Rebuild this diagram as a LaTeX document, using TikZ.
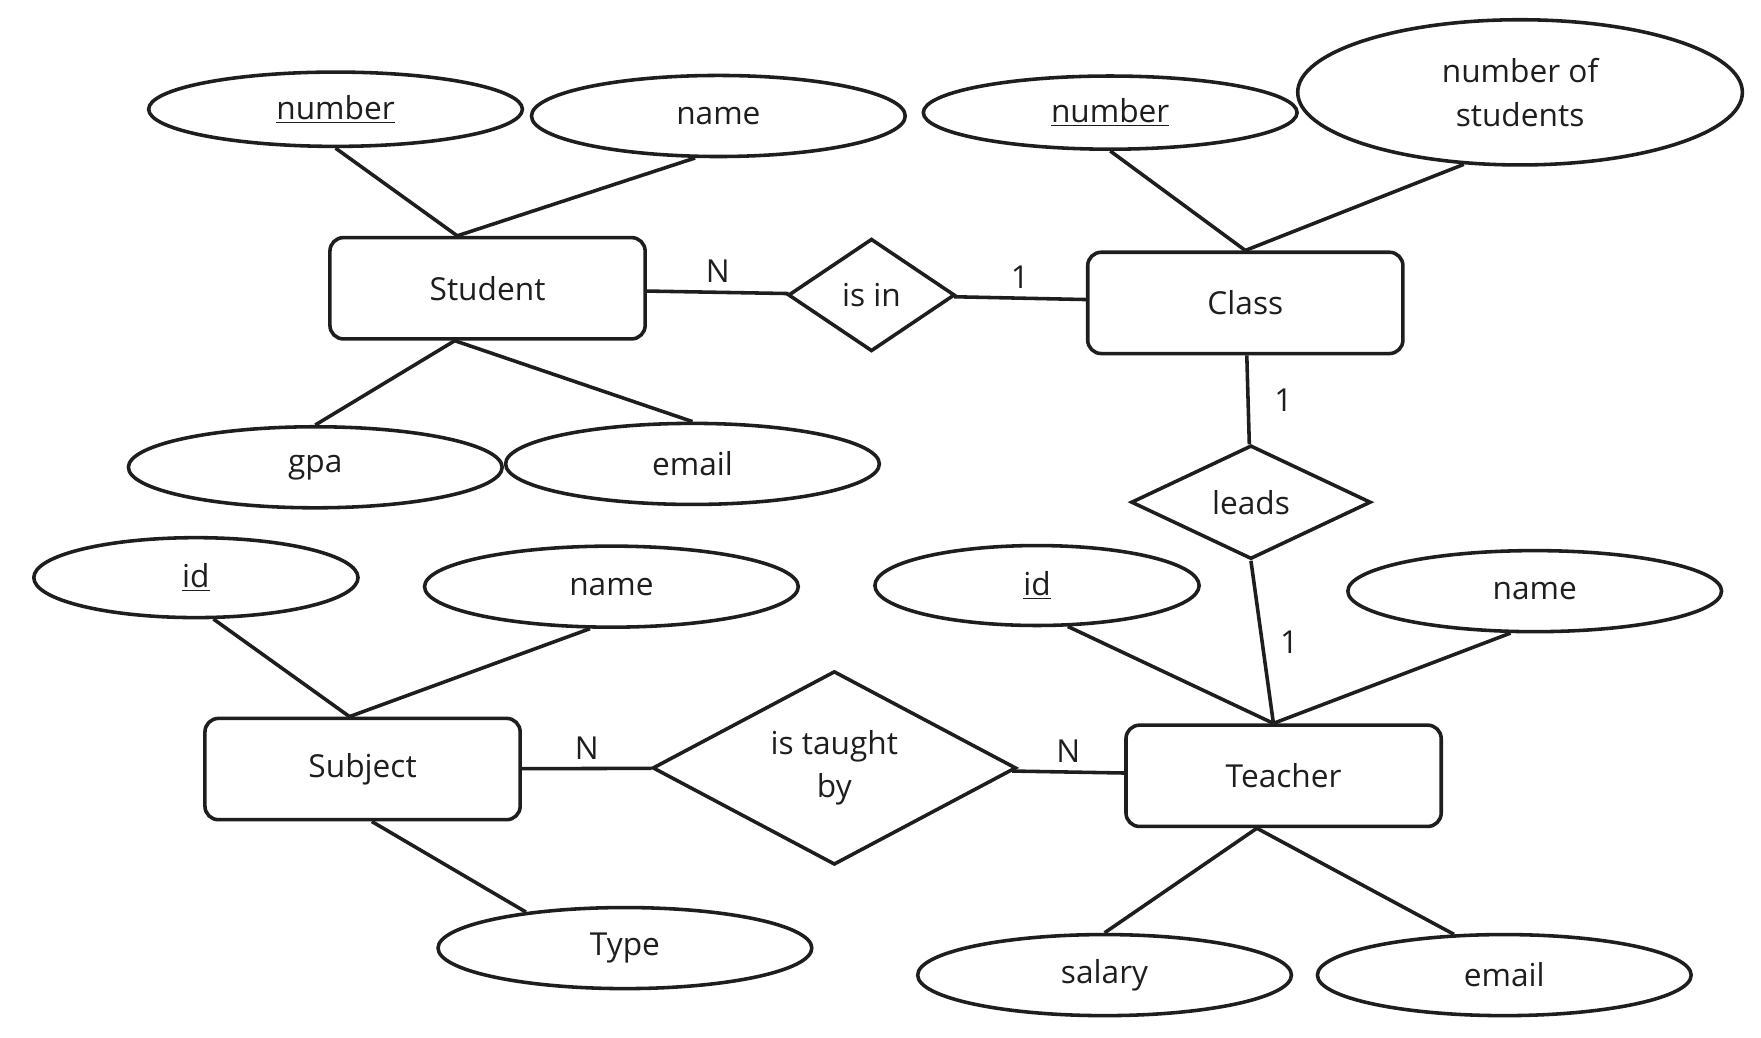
\documentclass[tikz,border=0pt]{standalone}
\usepackage{fontspec}
\setmainfont{Open Sans}
\usetikzlibrary{shapes.geometric}
\definecolor{ink}{HTML}{1E1E1E}

\begin{document}
\begin{tikzpicture}[x=0.02cm,y=-0.02cm,
        font=\fontsize{16}{22}\selectfont,
        every node/.style={text=ink},
        entity/.style={draw=ink,line width=1.8pt,rounded corners=0.24cm,minimum width=5.6cm,minimum height=1.8cm},
        attr/.style={draw=ink,line width=1.8pt,ellipse,minimum width=6.64cm,minimum height=1.44cm},
        keyattr/.style={attr,minimum width=5.76cm,minimum height=1.42cm},
        rel/.style={draw=ink,line width=1.8pt,diamond,inner sep=0pt},
        conn/.style={draw=ink,line width=1.8pt},
        card/.style={font=\fontsize{16}{18}\selectfont,inner sep=1pt}]
        \useasboundingbox (0,0) rectangle (1564,921);

        \node[entity] (student) at (433,256) {Student};
        \node[entity] (class) at (1106,269) {Class};
        \node[entity] (subject) at (322,683) {Subject};
        \node[entity] (teacher) at (1140,689) {Teacher};

        \node[rel,minimum width=2.96cm,minimum height=2cm,aspect=1.48] (isin) at (774,262) {is in};
        \node[rel,minimum width=4.26cm,minimum height=2.02cm,aspect=2.1] (leads) at (1111,446) {leads};
        \node[rel,minimum width=6.46cm,minimum height=3.44cm,aspect=1.88,align=center] (taught) at (741,682) {is taught\\by};

        \node[attr,minimum height=1.32cm] (snum) at (298,97) {\underline{number}};
        \node[attr,minimum height=1.3cm] (cnum) at (986,100) {\underline{number}};
        \node[attr,minimum width=7.9cm,minimum height=2.58cm,align=center] (cstud) at (1350,82) {number of\\students};
        \node[keyattr] (subid) at (174,513) {\underline{id}};
        \node[keyattr] (tid) at (921,520) {\underline{id}};

        \foreach \n/\x/\y/\t in {sname/638/103/name, gpa/280/415/gpa, semail/615/412/email,
                subname/543/521/name, type/555/842/Type,
                tname/1363/525/name, salary/981/866/salary, temail/1336/866/email}
            \node[attr] (\n) at (\x,\y) {\t};

        \foreach \a/\b in {snum.south/student.120, sname.241/student.120,
                student.238/gpa.north, student.238/semail.north,
                cnum.south/class.north, cstud.232/class.north,
                subid.293/subject.104, subname.243/subject.104, subject.280/type.160,
                tid.307/teacher.101, tname.240/teacher.101,
                teacher.243/salary.north, teacher.243/temail.141}
            \draw[conn] (\a) -- (\b);

        \draw[conn] (student) -- node[card,above=0.1cm] {N} (isin);
        \draw[conn] (isin) -- node[card,above=0.1cm] {1} (class);
        \draw[conn] (class) -- node[card,right=0.4cm] {1} (leads);
        \draw[conn] (leads.south) -- node[card,right=0.25cm] {1} (teacher.101);
        \draw[conn] (subject) -- node[card,above=0.1cm] {N} (taught);
        \draw[conn] (taught) -- node[card,above=0.1cm] {N} (teacher);
\end{tikzpicture}
\end{document}
